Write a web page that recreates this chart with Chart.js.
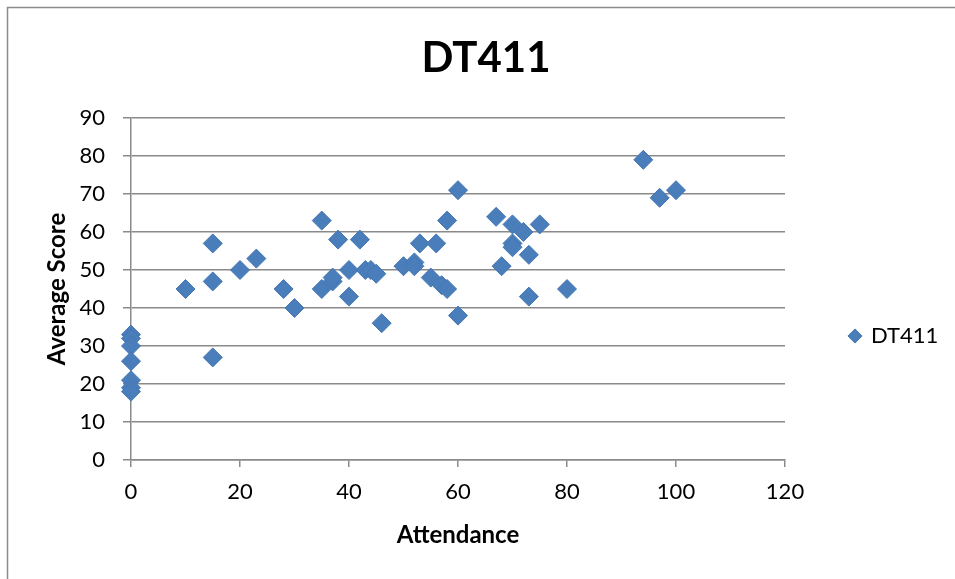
<!DOCTYPE html>
<html>
<head>
<meta charset="utf-8">
<script src="https://cdn.jsdelivr.net/npm/chart.js@4/dist/chart.umd.min.js"></script>
<style>
  html, body { margin: 0; padding: 0; background: #ffffff; }
  #wrap { width: 955px; height: 579px; position: relative; }
</style>
</head>
<body>
<div id="wrap"><canvas id="c" width="955" height="579"></canvas></div>
<script>
// ---- data ----
const chartTitle = 'DT411';
const seriesName = 'DT411';
const xAxisTitle = 'Attendance';
const yAxisTitle = 'Average Score';
const xTicks = [0, 20, 40, 60, 80, 100, 120];
const yTicks = [0, 10, 20, 30, 40, 50, 60, 70, 80, 90];
const attendance = [0, 0, 0, 0, 0, 0, 0, 10, 15, 15, 15, 20, 23, 28, 30, 35, 35, 37, 37, 38,
  40, 40, 42, 43, 44, 45, 46, 50, 52, 52, 53, 55, 56, 57, 58, 58, 60, 60,
  67, 68, 70, 70, 70, 72, 73, 73, 75, 80, 94, 97, 100];
const averageScore = [33, 32, 30, 26, 21, 19, 18, 45, 57, 47, 27, 50, 53, 45, 40, 63, 45, 47, 48, 58,
  50, 43, 58, 50, 50, 49, 36, 51, 52, 51, 57, 48, 57, 46, 45, 63, 71, 38,
  64, 51, 62, 57, 56, 60, 54, 43, 62, 45, 79, 69, 71];

const points = attendance.map((x, i) => ({ x: x, y: averageScore[i] }));

const GRID = '#8a8a8a';
const FONT = 'Lato, "Open Sans", sans-serif';

const framePlugin = {
  id: 'frame',
  beforeDraw(chart) {
    const ctx = chart.ctx;
    ctx.save();
    ctx.fillStyle = '#ffffff';
    ctx.fillRect(0, 0, chart.width, chart.height);
    ctx.strokeStyle = '#8c8c8c';
    ctx.lineWidth = 1.5;
    ctx.strokeRect(7.5, 7.5, chart.width + 20, chart.height + 20);
    ctx.restore();
  }
};

const legendPlace = {
  id: 'legendPlace',
  beforeLayout(chart) {
    const lg = chart.legend;
    if (lg && !lg._patched) {
      const orig = lg.fit;
      lg.fit = function () { orig.call(this); this.width = 170; };
      lg._patched = true;
    }
  },
  afterLayout(chart) {
    const lg = chart.legend;
    if (!lg) return;
    const ca = chart.chartArea;
    lg.left = ca.right + 55;
    lg.right = chart.width;
    lg.top = 314;
    lg.bottom = 358;
    lg.width = lg.right - lg.left;
    lg.height = lg.bottom - lg.top;
  }
};

new Chart(document.getElementById('c'), {
  type: 'scatter',
  data: {
    datasets: [{
      label: seriesName,
      data: points,
      pointStyle: 'rectRot',
      pointRadius: 9.5,
      pointHoverRadius: 9.5,
      backgroundColor: '#4a7ebb',
      borderColor: '#4677b4',
      borderWidth: 1,
      clip: false
    }]
  },
  options: {
    responsive: false,
    animation: false,
    events: [],
    layout: { padding: { left: 17, top: 0, right: 0, bottom: 19 } },
    plugins: {
      tooltip: { enabled: false },
      title: {
        display: true,
        text: chartTitle,
        color: '#000000',
        font: { family: FONT, size: 42, weight: 'bold', lineHeight: 1.2 },
        padding: { top: 33.5, bottom: 34.1 }
      },
      legend: {
        display: true,
        position: 'right',
        align: 'center',
        labels: {
          usePointStyle: true,
          pointStyle: 'rectRot',
          boxWidth: 10,
          boxHeight: 10,
          padding: 10,
          color: '#000000',
          font: { family: FONT, size: 22 }
        }
      }
    },
    scales: {
      x: {
        type: 'linear',
        min: xTicks[0],
        max: xTicks[xTicks.length - 1],
        afterBuildTicks: s => { s.ticks = xTicks.map(v => ({ value: v })); },
        afterFit: s => { s.height = 100; },
        grid: { display: true, drawOnChartArea: false, drawTicks: true, tickLength: 7, color: GRID, lineWidth: 1.5 },
        border: { display: true, color: GRID, width: 1.5 },
        ticks: { color: '#000000', font: { family: FONT, size: 22 }, padding: 12, maxRotation: 0 },
        title: {
          display: true,
          text: xAxisTitle,
          color: '#000000',
          font: { family: FONT, size: 24, weight: 'bold', lineHeight: 1.2 },
          padding: { top: 0, bottom: 10.6 }
        }
      },
      y: {
        type: 'linear',
        min: yTicks[0],
        max: yTicks[yTicks.length - 1],
        afterBuildTicks: s => { s.ticks = yTicks.map(v => ({ value: v })); },
        afterFit: s => { s.width = 114; },
        grid: { display: true, drawOnChartArea: true, drawTicks: true, tickLength: 8, color: GRID, lineWidth: 1.5 },
        border: { display: true, color: GRID, width: 1.5 },
        ticks: { color: '#000000', font: { family: FONT, size: 22 }, padding: 18 },
        title: {
          display: true,
          text: yAxisTitle,
          color: '#000000',
          font: { family: FONT, size: 24, weight: 'bold', lineHeight: 1.2 },
          padding: { top: 25.6, bottom: 0 }
        }
      }
    }
  },
  plugins: [framePlugin, legendPlace]
});
</script>
</body>
</html>
